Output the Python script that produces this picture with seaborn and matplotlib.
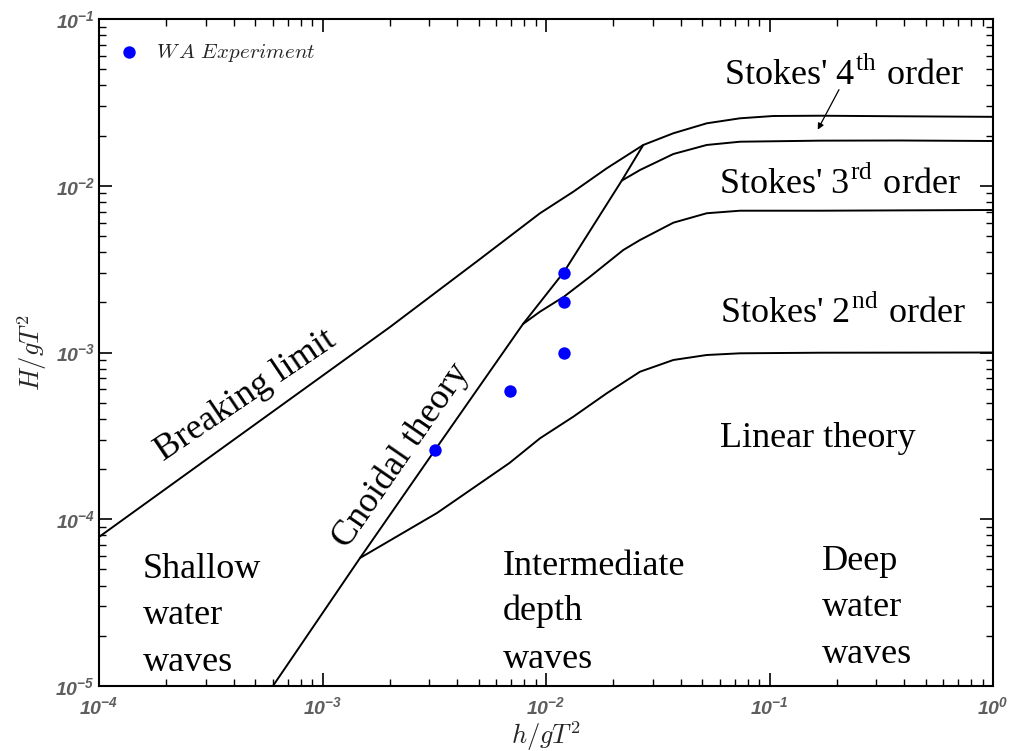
import matplotlib
matplotlib.use("Agg")
import matplotlib.pyplot as plt
import seaborn as sns

# ---------------- data ----------------
breaking_x = [1.0e-4, 4.74e-4, 2.005e-3, 5.07e-3, 9.40e-3, 0.01325, 0.01869,
              0.02724, 0.03713, 0.05236, 0.07379, 0.1040, 0.1683, 0.3836, 1.0]
breaking_y = [7.83e-5, 3.525e-4, 1.422e-3, 3.637e-3, 6.84e-3, 9.21e-3, 0.01272,
              0.01756, 0.02064, 0.02368, 0.02538, 0.02620, 0.02630, 0.02610, 0.02590]

stokes34_x = [0.02182, 0.02634, 0.03713, 0.05236, 0.07379, 0.1683, 0.3836, 1.0]
stokes34_y = [0.01073, 0.01243, 0.0155, 0.01756, 0.01837, 0.01864, 0.01868, 0.01855]

stokes23_x = [7.89e-3, 9.40e-3, 0.01203, 0.01573, 0.02217, 0.02634, 0.03713,
              0.05236, 0.07379, 0.1683, 1.0]
stokes23_y = [1.482e-3, 1.757e-3, 2.161e-3, 2.848e-3, 4.117e-3, 4.727e-3, 6.004e-3,
              6.84e-3, 7.085e-3, 7.085e-3, 7.155e-3]

stokes2lin_x = [1.472e-3, 3.253e-3, 6.866e-3, 9.40e-3, 0.01325, 0.01869, 0.02634,
                0.03713, 0.05236, 0.07379, 0.1683, 1.0]
stokes2lin_y = [5.857e-5, 1.09e-4, 2.175e-4, 3.058e-4, 4.121e-4, 5.691e-4, 7.67e-4,
                9.017e-4, 9.66e-4, 9.89e-4, 9.97e-4, 1.0e-3]

cnoidal_x = [6.0e-4, 1.472e-3, 3.187e-3, 7.89e-3, 0.01203, 0.02182, 0.02724]
cnoidal_y = [1.0e-5, 5.857e-5, 2.602e-4, 1.482e-3, 3.04e-3, 0.01073, 0.01756]

exp_x = [0.012, 0.012, 0.012, 0.0069, 0.0032]
exp_y = [0.003, 0.002, 0.001, 0.00059, 0.00026]
exp_label = r"$W\,A\ Experiment$"

x_label = r"$h/gT^2$"
y_label = r"$H/gT^2$"

# ---------------- style ----------------
sns.set_theme(style="ticks")
plt.rcParams["font.family"] = ["Liberation Sans", "DejaVu Sans"]
plt.rcParams["font.weight"] = "bold"
plt.rcParams["font.style"] = "italic"
plt.rcParams["mathtext.fontset"] = "cm"

fig = plt.figure(figsize=(10.11, 7.51), dpi=100)
W, H = 1011, 751
L, R, T, B = 99, 993, 19, 686
ax = fig.add_axes([L / W, (H - B) / H, (R - L) / W, (B - T) / H])


def ax_x(px):
    return (px - L) / (R - L)


def ax_y(py):
    return (B - py) / (B - T)


line_kw = dict(color="black", lw=1.4, sort=False, estimator=None, ax=ax, legend=False)
for xs, ys in [(breaking_x, breaking_y), (stokes34_x, stokes34_y),
               (stokes23_x, stokes23_y), (stokes2lin_x, stokes2lin_y),
               (cnoidal_x, cnoidal_y)]:
    sns.lineplot(x=xs, y=ys, **line_kw)

sns.scatterplot(x=exp_x, y=exp_y, color="#0000ff", s=80, linewidth=0,
                label=exp_label, ax=ax, zorder=5)

ax.set_xscale("log")
ax.set_yscale("log")
ax.set_xlim(1e-4, 1e0)
ax.set_ylim(1e-5, 1e-1)

for sp in ax.spines.values():
    sp.set_linewidth(1.5)
    sp.set_color("black")
    sp.set_visible(True)

ax.tick_params(which="both", direction="in", top=True, right=True,
               colors="black", labelcolor="#5e5e5e", labelsize=14)
ax.tick_params(which="major", length=9.4, width=1.2)
ax.tick_params(which="minor", length=5, width=1.0)
ax.tick_params(axis="x", pad=7)
ax.tick_params(axis="y", pad=3)

ax.set_xlabel(x_label, fontsize=19, fontweight="normal", fontstyle="normal")
ax.set_ylabel(y_label, fontsize=19, fontweight="normal", fontstyle="normal")
ax.xaxis.set_label_coords(0.5, ax_y(719))
ax.yaxis.set_label_coords(ax_x(49), 0.5)

leg = ax.legend(loc="upper left", bbox_to_anchor=(ax_x(118), ax_y(42)),
                frameon=False, borderpad=0, borderaxespad=0, handlelength=1.0,
                handletextpad=0.8, fontsize=15.2, markerscale=1.0)

# ---------------- region annotations ----------------
serif = dict(fontfamily="Liberation Serif", fontweight="normal", fontstyle="normal",
             fontsize=26, color="black", transform=ax.transAxes)

blocks = [
    (143, [("Shallow", 578), ("water", 624), ("waves", 671)]),
    (503, [("Intermediate", 575), ("depth", 620), ("waves", 668)]),
    (822, [("Deep", 570), ("water", 616), ("waves", 663)]),
]
for px, lines in blocks:
    for txt, py in lines:
        ax.text(ax_x(px), ax_y(py), txt, ha="left", va="baseline", **serif)

ax.text(ax_x(720), ax_y(447), "Linear theory", ha="left", va="baseline", **serif)
ax.text(ax_x(720), ax_y(323), r"Stokes' 2$^{\mathdefault{nd}}$ order", ha="left",
        va="baseline", **serif)
ax.text(ax_x(719), ax_y(194), r"Stokes' 3$^{\mathdefault{rd}}$ order", ha="left",
        va="baseline", **serif)
ax.text(ax_x(724), ax_y(85), r"Stokes' 4$^{\mathdefault{th}}$ order", ha="left",
        va="baseline", **serif)

ax.text(ax_x(246), ax_y(396), "Breaking limit", ha="center", va="center",
        rotation=34, **serif)
ax.text(ax_x(401), ax_y(456), "Cnoidal theory", ha="center", va="center",
        rotation=55.5, **serif)

ax.annotate("", xy=(0.1644, 0.0217), xytext=(0.2046, 0.0377), xycoords="data",
            textcoords="data",
            arrowprops=dict(arrowstyle="-|>", lw=0.9, color="black",
                            mutation_scale=9, shrinkA=0, shrinkB=0))

fig.savefig("out.png", dpi=100)
